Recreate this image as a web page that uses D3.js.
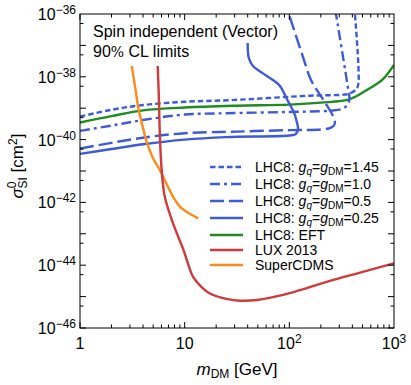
<!DOCTYPE html>
<html>
<head>
<meta charset="utf-8">
<script src="https://d3js.org/d3.v7.min.js"></script>
<style>
  body { margin: 0; background: #fff; }
  text { font-family: "Liberation Sans", Arial, sans-serif; fill: #000; }
  .curve { fill: none; stroke-linejoin: round; stroke-linecap: butt; }
</style>
</head>
<body>
<svg width="411" height="385"></svg>
<script>
// data: [mass GeV, sigma cm^2]
const eft = [[1,3.5e-40],[2,5.6e-40],[4,8.5e-40],[10,1.05e-39],[31.6,1.2e-39],[100,1.3e-39],[200,1.5e-39],[380,1.95e-39],[550,3.8e-39],[780,8.3e-39],[1000,2.4e-38]];
const g145 = [[1,5.4e-40],[2,8.9e-40],[4,1.26e-39],[10,1.6e-39],[27,1.8e-39],[157,2.5e-39],[330,2.7e-39],[375,2.9e-39],[440,4.2e-39],[458,6.5e-39],[423,1e-36]];
const g10 = [[1,1.9e-40],[2,2.8e-40],[4,4.2e-40],[10,6.3e-40],[25,6.9e-40],[100,7.6e-40],[244,8.3e-40],[320,9.5e-40],[360,1.3e-39],[375,2.0e-39],[365,4.0e-39],[279,1e-36]];
const g05 = [[1,5.2e-41],[2,7.9e-41],[4,1.15e-40],[10,1.6e-40],[31.6,1.8e-40],[100,2.0e-40],[200,2.1e-40],[250,2.4e-40],[272,3.2e-40],[262,5.5e-40],[204,2.2e-39],[162,7.6e-39],[132,5.4e-38],[99,1e-36]];
const g025 = [[1,3.5e-41],[2,5e-41],[4,7.1e-41],[10,1.0e-40],[25,1.2e-40],[100,1.35e-40],[115,1.5e-40],[121,2.2e-40],[117,4e-40],[112,6.6e-40],[93,2.2e-39],[81,5.2e-39],[60,1.1e-38],[45,2.2e-38],[41,4e-38],[40,1.2e-37]];
const lux = [[5.52,2.2e-38],[5.65,3.2e-39],[5.8,1.26e-40],[6.03,1.07e-41],[6.46,1.5e-42],[7.76,2.1e-43],[9.77,3.0e-44],[12.0,4.3e-45],[14.5,2.0e-45],[17.4,1.26e-45],[25.1,8.5e-46],[33.7,7.4e-46],[48.9,7.8e-46],[81,1.07e-45],[126,1.6e-45],[263,3.4e-45],[547,6.6e-45],[1000,1.15e-44]];
const cdms = [[3.12,2.2e-38],[3.39,4e-39],[3.6,1.07e-39],[3.98,2.5e-40],[4.37,7.9e-41],[5.0,2.5e-41],[5.8,1.07e-41],[6.9,3.2e-42],[8.07,1.2e-42],[9.1,7.1e-43],[10.4,5e-43],[13.5,3.1e-43]];

const xTicks = [1, 10, 100, 1000];
const xTickLabels = [["1",""],["10",""],["10","2"],["10","3"]];
const yTicks = [-36, -38, -40, -42, -44, -46];

const legendLabels = [
  {g: "1.45", dash: "5.5,3", color: "#3d5bd8"},
  {g: "1.0", dash: "10,4,3,4", color: "#3d5bd8"},
  {g: "0.5", dash: "14,5", color: "#3d5bd8"},
  {g: "0.25", dash: null, color: "#3d5bd8"},
  {t: "LHC8: EFT", dash: null, color: "#1e8c1e"},
  {t: "LUX 2013", dash: null, color: "#d03a3a"},
  {t: "SuperCDMS", dash: null, color: "#ff8a1a"}
];

const svg = d3.select("svg");
const L = 80, R = 394, T = 14, B = 328;
const x = d3.scaleLog().domain([1, 1000]).range([L, R]);
const y = d3.scaleLog().domain([1e-46, 1e-36]).range([B, T]);

svg.append("clipPath").attr("id", "clip")
  .append("rect").attr("x", L).attr("y", T).attr("width", R - L).attr("height", B - T);

const line = d3.line().x(d => x(d[0])).y(d => y(d[1])).curve(d3.curveCatmullRom.alpha(0.5));
const plot = svg.append("g").attr("clip-path", "url(#clip)");

const series = [
  {d: eft, color: "#1e8c1e", dash: null},
  {d: g145, color: "#3d5bd8", dash: "5.5,3"},
  {d: g10, color: "#3d5bd8", dash: "10,4,3,4"},
  {d: g05, color: "#3d5bd8", dash: "14,5"},
  {d: g025, color: "#3d5bd8", dash: null},
  {d: cdms, color: "#ff8a1a", dash: null},
  {d: lux, color: "#d03a3a", dash: null}
];
series.forEach(s => {
  plot.append("path").attr("class", "curve")
    .attr("d", line(s.d))
    .attr("stroke", s.color)
    .attr("stroke-width", 2.4)
    .attr("stroke-dasharray", s.dash);
});

// frame
svg.append("rect").attr("x", L).attr("y", T).attr("width", R - L).attr("height", B - T)
  .attr("fill", "none").attr("stroke", "#000").attr("stroke-width", 1);

// x ticks (inside, bottom and top)
const ticks = svg.append("g").attr("stroke", "#000").attr("stroke-width", 1);
for (let e = 0; e < 3; e++) {
  for (let k = 1; k <= 9; k++) {
    const v = k * Math.pow(10, e), len = k === 1 ? 6 : 3.5, px = x(v);
    ticks.append("line").attr("x1", px).attr("x2", px).attr("y1", B).attr("y2", B - len);
    ticks.append("line").attr("x1", px).attr("x2", px).attr("y1", T).attr("y2", T + len);
  }
}
// y ticks: every decade and 5x
for (let e = -46; e < -36; e++) {
  [1, 5].forEach(k => {
    const v = k * Math.pow(10, e), len = k === 1 ? 6 : 3.5, py = y(v);
    ticks.append("line").attr("x1", L).attr("x2", L + len).attr("y1", py).attr("y2", py);
    ticks.append("line").attr("x1", R).attr("x2", R - len).attr("y1", py).attr("y2", py);
  });
}

// x tick labels
xTicks.forEach((v, i) => {
  const t = svg.append("text").attr("x", x(v)).attr("y", 349).attr("text-anchor", "middle")
    .style("font-size", "16px");
  t.append("tspan").text(xTickLabels[i][0]);
  if (xTickLabels[i][1]) t.append("tspan").attr("dy", -6).style("font-size", "12px").text(xTickLabels[i][1]);
});
// y tick labels
yTicks.forEach(e => {
  const t = svg.append("text").attr("x", 76).attr("y", y(Math.pow(10, e)) + 6).attr("text-anchor", "end")
    .style("font-size", "16px");
  t.append("tspan").text("10");
  t.append("tspan").attr("dy", -6).style("font-size", "12px").text("\u2212" + (-e));
});

// axis titles
const xt = svg.append("text").attr("x", 237).attr("y", 375).attr("text-anchor", "middle").style("font-size", "17px");
xt.append("tspan").style("font-style", "italic").text("m");
xt.append("tspan").attr("dy", 3).style("font-size", "12px").text("DM");
xt.append("tspan").attr("dy", -3).text(" [GeV]");

const yt = svg.append("text").attr("transform", "translate(23,166) rotate(-90)").attr("text-anchor", "middle").style("font-size", "17px");
yt.append("tspan").style("font-style", "italic").text("\u03c3");
yt.append("tspan").attr("dy", -7).style("font-size", "12px").text("0");
yt.append("tspan").attr("dx", -7).attr("dy", 11).style("font-size", "12px").text("SI");
yt.append("tspan").attr("dy", -4).text(" [cm");
yt.append("tspan").attr("dy", -6).style("font-size", "12px").text("2");
yt.append("tspan").attr("dy", 6).text("]");

// inset text
svg.append("text").attr("x", 93).attr("y", 37).style("font-size", "16px").text("Spin independent (Vector)");
const cl = svg.append("text").attr("x", 93).attr("y", 57).style("font-size", "16px");
cl.append("tspan").text("90");
cl.append("tspan").style("font-family", "'DejaVu Serif', serif").style("font-size", "14px").text("%");
cl.append("tspan").text(" CL limits");

// legend
const ly = [167, 184, 201, 218, 235, 250, 265];
legendLabels.forEach((d, i) => {
  svg.append("line").attr("x1", 210).attr("x2", 243).attr("y1", ly[i]).attr("y2", ly[i])
    .attr("stroke", d.color).attr("stroke-width", 2.4).attr("stroke-dasharray", d.dash);
  const t = svg.append("text").attr("x", 255).attr("y", ly[i] + 5).style("font-size", "14px");
  if (d.t) { t.text(d.t); return; }
  t.append("tspan").text("LHC8: ");
  t.append("tspan").style("font-style", "italic").text("g");
  t.append("tspan").attr("dy", 3).style("font-size", "10px").style("font-style", "italic").text("q");
  t.append("tspan").attr("dy", -3).text("=");
  t.append("tspan").style("font-style", "italic").text("g");
  t.append("tspan").attr("dy", 3).style("font-size", "10px").text("DM");
  t.append("tspan").attr("dy", -3).text("=" + d.g);
});
</script>
</body>
</html>
